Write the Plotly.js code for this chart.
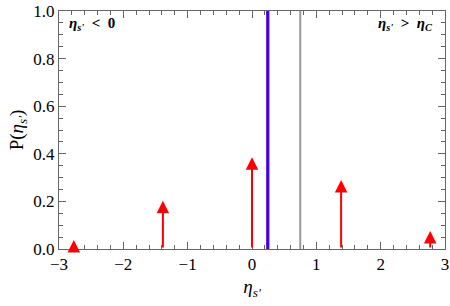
<!DOCTYPE html>
<html><head><meta charset="utf-8">
<script src="https://cdn.plot.ly/plotly-3.0.1.min.js"></script>
<style>body{margin:0}#c{width:450px;height:306px}</style>
</head><body><div id="c"></div>
<script>
const arrowX = [-2.77, -1.385, 0, 1.385, 2.77];
const arrowH = [0.038, 0.203, 0.385, 0.29, 0.076];
const blueLineX = 0.245;
const grayLineX = 0.75;
const yTicks = [0, 0.2, 0.4, 0.6, 0.8, 1.0];
const xTicks = [-3, -2, -1, 0, 1, 2, 3];

const serif = "Liberation Serif";
const traces = [
  {x:[blueLineX, blueLineX], y:[0,1], mode:'lines', line:{color:'#8a2be2', width:3.5}, hoverinfo:'skip', showlegend:false},
  {x:[blueLineX, blueLineX], y:[0,1], mode:'lines', line:{color:'#2200ff', width:2}, hoverinfo:'skip', showlegend:false},
  {x:[grayLineX, grayLineX], y:[0,1], mode:'lines', line:{color:'#999999', width:2}, hoverinfo:'skip', showlegend:false}
];
const anns = arrowX.map((x,i)=>({
  x:x, y:arrowH[i], ax:x, ay:0, xref:'x', yref:'y', axref:'x', ayref:'y',
  text:'', showarrow:true, arrowhead:2, arrowsize:1.25, arrowwidth:2, arrowcolor:'#ff0000'
}));
anns.push({xref:'paper', yref:'paper', x:0.02, y:0.945, xanchor:'left', yanchor:'middle', showarrow:false,
  text:'<b><i>η<sub>s\'</sub></i>  &lt;  0</b>', font:{family:serif, size:15, color:'#000'}});
anns.push({xref:'paper', yref:'paper', x:0.975, y:0.945, xanchor:'right', yanchor:'middle', showarrow:false,
  text:'<b><i>η<sub>s\'</sub></i>  &gt;  <i>η<sub>C</sub></i></b>', font:{family:serif, size:15, color:'#000'}});

const axCommon = {showgrid:false, zeroline:false, showline:true, linecolor:'#666', linewidth:1, mirror:'ticks',
  ticks:'inside', ticklen:7, tickcolor:'#666', tickwidth:1,
  tickfont:{family:serif, size:17, color:'#000'}};
const layout = {
  width:450, height:306, margin:{l:59, r:5, t:11, b:57},
  paper_bgcolor:'#fff', plot_bgcolor:'#fff',
  font:{family:serif},
  xaxis:Object.assign({}, axCommon, {range:[-3,3], tickvals:xTicks, ticktext:xTicks.map(v=>v<0?'−'+Math.abs(v):String(v)),
    minor:{dtick:0.2, ticklen:4, tickcolor:'#666', ticks:'inside'},
    title:{text:'<i>η<sub>s\'</sub></i>', font:{family:serif, size:19, color:'#000'}, standoff:6}}),
  yaxis:Object.assign({}, axCommon, {range:[0,1], tickvals:yTicks, ticktext:yTicks.map(v=>v.toFixed(1)),
    minor:{dtick:0.05, ticklen:4, tickcolor:'#666', ticks:'inside'},
    title:{text:'P(<i>η<sub>s\'</sub></i>)', font:{family:serif, size:19, color:'#000'}, standoff:4}}),
  annotations:anns
};
Plotly.newPlot('c', traces, layout, {displayModeBar:false, staticPlot:true});
</script></body></html>
